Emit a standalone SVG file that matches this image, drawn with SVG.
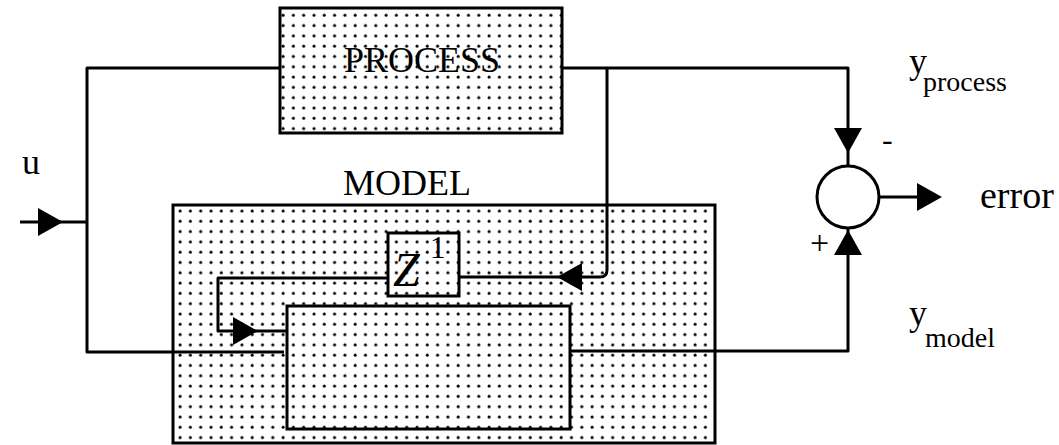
<svg xmlns="http://www.w3.org/2000/svg" width="1059" height="445" viewBox="0 0 1059 445">
<style>
.ln{fill:none;stroke:#000;stroke-width:3;stroke-linejoin:round}
.bx{fill:url(#dots);stroke:#000;stroke-width:3}
.t{font-family:"Liberation Serif","Times New Roman",serif;fill:#000}
</style>
<defs>
<pattern id="dots" patternUnits="userSpaceOnUse" width="10.3" height="10.3" x="2" y="2">
<rect width="10.3" height="10.3" fill="#fff"/>
<circle cx="3" cy="3" r="1.5" fill="#000"/>
</pattern>
<path id="ah" d="M0,0 L-25,-14 L-25,14 Z" fill="#000"/>
</defs>
<g id="process">
<rect class="bx" x="280" y="8" width="282" height="125"/>
<text class="t" x="344" y="72" font-size="36">PROCESS</text>
</g>
<g id="model">
<rect class="bx" x="173" y="205" width="542" height="238" stroke-width="5"/>
<text class="t" x="343" y="195" font-size="36">MODEL</text>
</g>
<g id="delay">
<rect class="bx" x="388" y="233" width="71" height="63"/>
<text class="t" x="393" y="286" font-size="48" font-style="italic">Z<tspan font-style="normal" font-size="32" dx="10" dy="-28">1</tspan></text>
</g>
<g id="network">
<rect class="bx" x="287" y="306" width="283" height="123"/>
</g>
<g id="sum">
<circle cx="848" cy="197" r="31" fill="#fff" stroke="#000" stroke-width="3"/>
<text class="t" x="882" y="150" font-size="32">-</text>
<text class="t" x="810" y="254" font-size="34">+</text>
</g>
<g id="connectors">
<path class="ln" d="M20,222 H87"/>
<use href="#ah" transform="translate(63,222)"/>
<path class="ln" d="M280,68 H87 V352 H284"/>
<path class="ln" d="M562,68 H848 V166"/>
<use href="#ah" transform="translate(848,153) rotate(90)"/>
<path class="ln" d="M607,68 V270 Q607,277 600,277 H459"/>
<use href="#ah" transform="translate(557,277) rotate(180)"/>
<path class="ln" d="M388,278 H218 V331 H287"/>
<use href="#ah" transform="translate(258,331)"/>
<path class="ln" d="M570,351 H848 V229"/>
<use href="#ah" transform="translate(848,230) rotate(-90)"/>
<path class="ln" d="M879,197 H920"/>
<use href="#ah" transform="translate(942,197)"/>
</g>
<g id="labels">
<text class="t" x="22" y="174" font-size="36">u</text>
<text class="t" x="980" y="208" font-size="38">error</text>
<text class="t" x="909" y="73" font-size="36">y<tspan font-size="28" dx="-4" dy="18">process</tspan></text>
<text class="t" x="909" y="325" font-size="36">y<tspan font-size="28" dx="-2" dy="22">model</tspan></text>
</g>
</svg>
